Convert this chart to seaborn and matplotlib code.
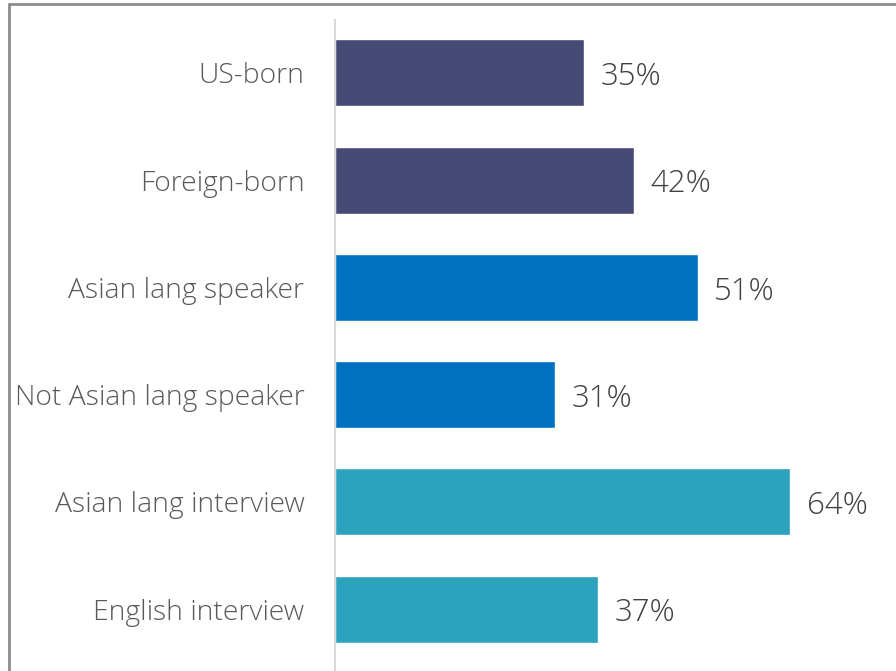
import matplotlib
matplotlib.use("Agg")
import matplotlib.pyplot as plt
import seaborn as sns
import pandas as pd
from matplotlib.lines import Line2D

categories = ["US-born", "Foreign-born", "Asian lang speaker", "Not Asian lang speaker",
              "Asian lang interview", "English interview"]
values = [35, 42, 51, 31, 64, 37]
colors = ["#474A75", "#474A75", "#0070C0", "#0070C0", "#2CA2BF", "#2CA2BF"]

sns.set_theme(style="white")
plt.rcParams['font.family'] = ['Open Sans', 'DejaVu Sans']

df = pd.DataFrame({"cat": categories, "val": values})

fig = plt.figure(figsize=(8.96, 6.71), dpi=100)
ax = fig.add_axes([335/896, 0, 1 - 335/896, 651/671])

sns.barplot(data=df, y="cat", x="val", hue="cat", palette=colors, legend=False,
            orient="h", width=0.625, ax=ax, saturation=1)

ax.set_xlim(0, 78.9)
ax.set_ylim(5.578, -0.494)
ax.set_xlabel("")
ax.set_ylabel("")
ax.set_xticks([])
for s in ["top", "right", "bottom"]:
    ax.spines[s].set_visible(False)
ax.spines["left"].set_color("#D9D9D9")
ax.spines["left"].set_linewidth(1.5)
ax.tick_params(axis="y", length=0, pad=22, labelsize=20.3, labelcolor="#595959")
for t in ax.get_yticklabels():
    t.set_fontweight("light")

for c in ax.containers:
    anns = ax.bar_label(c, labels=[f"{int(round(v))}%" for v in c.datavalues], padding=12,
                        fontsize=22.5, color="#404040", fontweight="light")
    for a in anns:
        a.xyann = (12, -3)

# figure border (top and left)
fig.add_artist(Line2D([8.5/896, 8.5/896], [0, 1 - 4/671], transform=fig.transFigure,
                      color="#8C8C8C", lw=2))
fig.add_artist(Line2D([8.5/896, 1], [1 - 4/671, 1 - 4/671], transform=fig.transFigure,
                      color="#8C8C8C", lw=2))

fig.savefig("out.png", dpi=100)
